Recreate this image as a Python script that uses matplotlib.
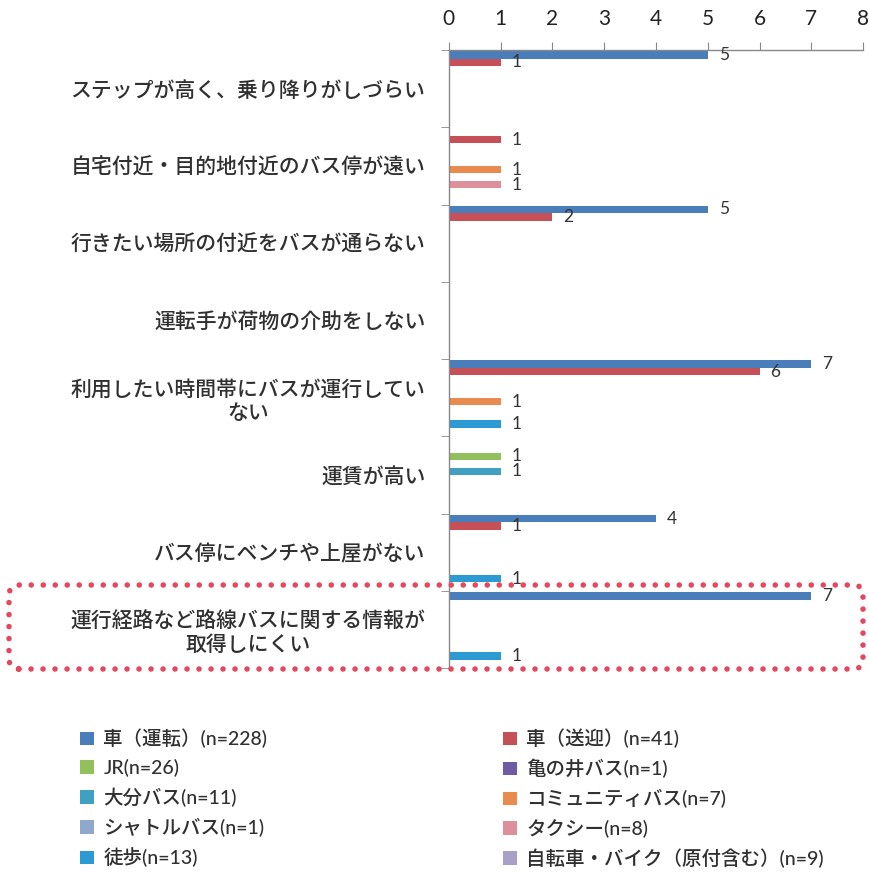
import numpy as np
import matplotlib.pyplot as plt
from matplotlib.patches import Patch, FancyBboxPatch

plt.rcParams['font.family'] = ['Lato', 'Noto Sans CJK JP', 'DejaVu Sans']

# 困りごと（上から順）
categories = [
    'ステップが高く、乗り降りがしづらい',
    '自宅付近・目的地付近のバス停が遠い',
    '行きたい場所の付近をバスが通らない',
    '運転手が荷物の介助をしない',
    '利用したい時間帯にバスが運行してい\nない',
    '運賃が高い',
    'バス停にベンチや上屋がない',
    '運行経路など路線バスに関する情報が\n取得しにくい',
]

# 交通手段ごとの回答数
car_drive = [5, 0, 5, 0, 7, 0, 4, 7]
car_pickup = [1, 1, 2, 0, 6, 0, 1, 0]
jr = [0, 0, 0, 0, 0, 1, 0, 0]
kamenoi_bus = [0, 0, 0, 0, 0, 0, 0, 0]
oita_bus = [0, 0, 0, 0, 0, 1, 0, 0]
community_bus = [0, 1, 0, 0, 1, 0, 0, 0]
shuttle_bus = [0, 0, 0, 0, 0, 0, 0, 0]
taxi = [0, 1, 0, 0, 0, 0, 0, 0]
walk = [0, 0, 0, 0, 1, 0, 1, 1]
bicycle = [0, 0, 0, 0, 0, 0, 0, 0]

series_names = ['車（運転）(n=228)', '車（送迎）(n=41)', 'JR(n=26)', '亀の井バス(n=1)',
                '大分バス(n=11)', 'コミュニティバス(n=7)', 'シャトルバス(n=1)',
                'タクシー(n=8)', '徒歩(n=13)', '自転車・バイク（原付含む）(n=9)']
series_values = [car_drive, car_pickup, jr, kamenoi_bus, oita_bus,
                 community_bus, shuttle_bus, taxi, walk, bicycle]
colors = ['#4a7ebb', '#c55058', '#92c05c', '#6f5aa6', '#3fa0c2',
          '#e98a4e', '#8fa8cc', '#dd8f9a', '#2e9ad4', '#a9a0c8']

fig = plt.figure(figsize=(8.7, 8.77), dpi=100)
ax = fig.add_axes([0.516, 0.238, 0.476, 0.705])

n_groups = len(categories)
slot = 1 / 10.3
margin = 0.15 * slot
base = np.arange(n_groups)

for j, (vals, c) in enumerate(zip(series_values, colors)):
    y = base + margin + (j + 0.5) * slot
    bars = ax.barh(y, vals, height=slot, color=c, edgecolor='none')
    ax.bar_label(bars, labels=[str(v) if v > 0 else '' for v in vals],
                 padding=8, fontsize=12.5, color='#333333')

ax.set_xlim(0, 8)
ax.set_ylim(n_groups, 0)

# 目盛り（上側）
ax.xaxis.tick_top()
ax.set_xticks(range(0, 9))
ax.tick_params(axis='x', direction='out', length=6, color='#888888',
               labelsize=15, labelcolor='#222222', pad=9)

# 項目名はグループ中央、区切り目盛りは境界に
ax.set_yticks(base + 0.5)
ax.set_yticklabels(categories, fontsize=15, color='#303030',
                   multialignment='center', fontweight='medium')
ax.tick_params(axis='y', which='major', length=0, pad=17)
ax.set_yticks(np.arange(n_groups + 1), minor=True)
ax.tick_params(axis='y', which='minor', direction='out', length=6, color='#888888')

for s in ['right', 'bottom']:
    ax.spines[s].set_visible(False)
for s in ['top', 'left']:
    ax.spines[s].set_color('#888888')
    ax.spines[s].set_linewidth(1)

# 凡例（左右2列）
handles = [Patch(facecolor=c, edgecolor='none') for c in colors]
legend_kw = dict(frameon=False, handlelength=0.7, handleheight=0.7,
                 handletextpad=0.5, labelspacing=0.55, labelcolor='#303030',
                 prop={'size': 14, 'weight': 'medium'})
fig.legend(handles[0::2], series_names[0::2], loc='upper left',
           bbox_to_anchor=(0.072, 0.189), **legend_kw)
fig.legend(handles[1::2], series_names[1::2], loc='upper left',
           bbox_to_anchor=(0.558, 0.189), **legend_kw)

# 強調枠（赤い点線）
box = FancyBboxPatch((0.09, 2.08), 8.54, 0.84,
                     boxstyle='round,pad=0,rounding_size=0.1',
                     transform=fig.dpi_scale_trans, fill=False,
                     edgecolor='#e2485e', linewidth=4,
                     linestyle=(0, (0.01, 2.15)))
box.set_capstyle('round')
fig.add_artist(box)

fig.savefig('out.png', dpi=100, facecolor='white')
